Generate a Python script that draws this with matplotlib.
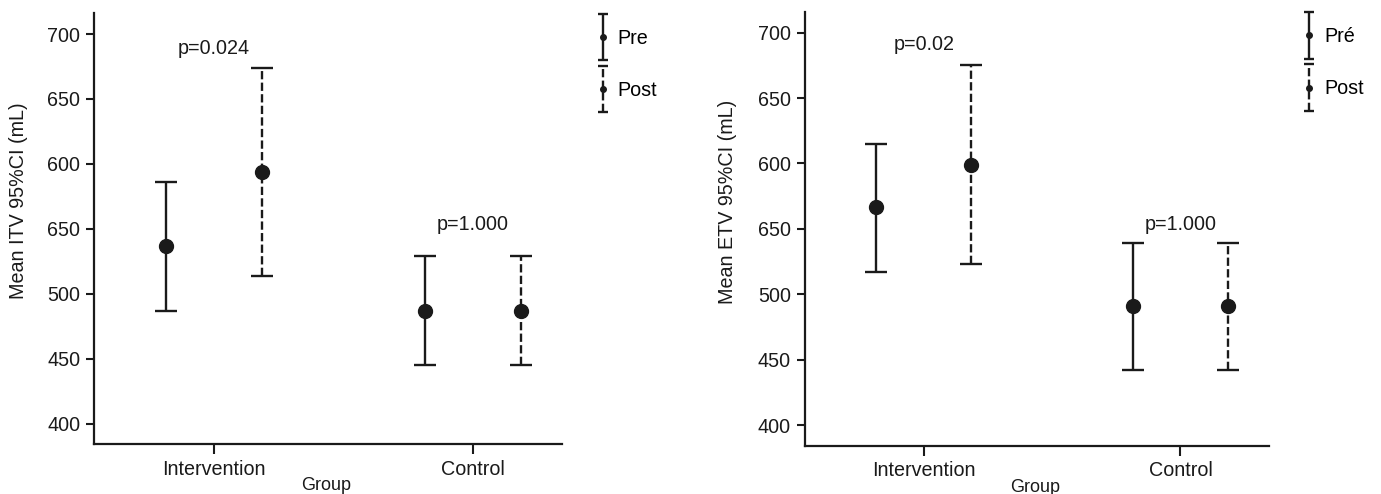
"""Pre/Post mean tidal volume with 95% CI, intervention vs control (two panels)."""
import matplotlib
matplotlib.use("Agg")
import matplotlib.pyplot as plt
from matplotlib.container import ErrorbarContainer
from matplotlib.legend_handler import HandlerErrorbar
from matplotlib.lines import Line2D

plt.rcParams["font.family"] = ["Liberation Sans", "DejaVu Sans"]

groups = ["Intervention", "Control"]
tick_values = [400, 450, 500, 550, 600, 650, 700]
tick_labels = ["400", "450", "500", "650", "600", "650", "700"]  # as printed

# ITV panel
itv_pre_mean = [537, 487]
itv_pre_lo = [487, 445]
itv_pre_hi = [586, 529]
itv_post_mean = [594, 487]
itv_post_lo = [514, 445]
itv_post_hi = [674, 529]
itv_p = ["p=0.024", "p=1.000"]
itv_p_y = [689, 553]

# ETV panel
etv_pre_mean = [567, 491]
etv_pre_lo = [517, 442]
etv_pre_hi = [615, 539]
etv_post_mean = [599, 491]
etv_post_lo = [523, 442]
etv_post_hi = [675, 539]
etv_p = ["p=0.02", "p=1.000"]
etv_p_y = [691, 553]

INK = "#1a1a1a"
DASH = (0, (3.5, 1.4))
OFFSET = 0.185
FS = 14.2


def small_legend_marks(handle, orig):
    handle.update_from(orig)
    if isinstance(handle, Line2D):
        if handle.get_marker() == "o":
            handle.set_markersize(4)
        elif handle.get_marker() == "_":
            handle.set_markersize(6.5)


def panel(ax, pre, post, pvals, p_y, ylabel, labels, ylab_x, ylab_y):
    x = range(len(groups))
    xs_pre = [i - OFFSET for i in x]
    xs_post = [i + OFFSET for i in x]
    for xs, (m, lo, hi), ls, lab in [
        (xs_pre, pre, "-", labels[0]),
        (xs_post, post, DASH, labels[1]),
    ]:
        err = [[a - b for a, b in zip(m, lo)], [c - a for a, c in zip(m, hi)]]
        eb = ax.errorbar(xs, m, yerr=err, fmt="o", color=INK, ms=10,
                         elinewidth=1.7, capsize=8, capthick=1.7, label=lab)
        eb[2][0].set_linestyle(ls)
    for i, (t, y) in enumerate(zip(pvals, p_y)):
        ax.text(i, y, t, ha="center", va="center", fontsize=FS, color=INK)

    ax.set_xlim(-0.463, 1.345)
    ax.set_ylim(384, 716)
    ax.set_xticks(list(x))
    ax.set_xticklabels(groups)
    ax.set_yticks(tick_values)
    ax.set_yticklabels(tick_labels)
    ax.tick_params(axis="y", direction="out", length=6, width=1.5, labelsize=FS,
                   pad=4, colors=INK)
    ax.tick_params(axis="x", direction="out", length=7, width=1.5, labelsize=FS,
                   pad=4, colors=INK)
    for side in ["top", "right"]:
        ax.spines[side].set_visible(False)
    for side in ["left", "bottom"]:
        ax.spines[side].set_linewidth(1.6)
        ax.spines[side].set_color(INK)

    ax.set_ylabel(ylabel, fontsize=FS, color=INK)
    ax.yaxis.set_label_coords(ylab_x, ylab_y)
    ax.set_xlabel("Group", fontsize=13, color=INK)
    ax.xaxis.set_label_coords(0.495, -0.077)

    ax.legend(loc="upper left", bbox_to_anchor=(1.07, 0.964), frameon=False,
              fontsize=FS, borderpad=0, borderaxespad=0, handlelength=0.8,
              handletextpad=0.35, labelspacing=1.68,
              handler_map={ErrorbarContainer: HandlerErrorbar(
                  yerr_size=1.18, update_func=small_legend_marks)})


fig = plt.figure(figsize=(13.81, 4.94), dpi=100)
ax1 = fig.add_axes([0.0683, 0.1006, 0.3387, 0.8725])
ax2 = fig.add_axes([0.5829, 0.0972, 0.336, 0.8791])

panel(ax1, (itv_pre_mean, itv_pre_lo, itv_pre_hi),
      (itv_post_mean, itv_post_lo, itv_post_hi),
      itv_p, itv_p_y, "Mean ITV 95%CI (mL)", ["Pre", "Post"], -0.142, 0.5645)
panel(ax2, (etv_pre_mean, etv_pre_lo, etv_pre_hi),
      (etv_post_mean, etv_post_lo, etv_post_hi),
      etv_p, etv_p_y, "Mean ETV 95%CI (mL)", ["Pré", "Post"], -0.147, 0.5625)

fig.savefig("out.png", dpi=100)
